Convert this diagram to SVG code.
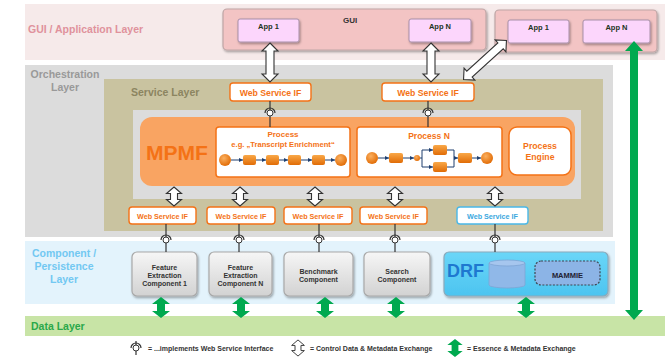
<svg xmlns="http://www.w3.org/2000/svg" width="669" height="358" viewBox="0 0 669 358">
<style>
text{font-family:"Liberation Sans",Arial,sans-serif;font-weight:bold}
.lay{font-size:10.5px}
.ws{fill:#fff;stroke:#f47216;stroke-width:1.4}
.wst{fill:#f47216;text-anchor:middle}
.app{fill:#fcd6fc;stroke:#a890a8;stroke-width:1}
.apt{font-size:7.5px;fill:#223322;text-anchor:middle}
.cmp{fill:url(#gc);stroke:#a8a8a8;stroke-width:1.2}
.cmt{font-size:7px;fill:#333;text-anchor:middle}
.pb{fill:#fff;stroke:#f47216;stroke-width:1.5}
.ot{fill:#f47216;text-anchor:middle}
.ha{fill:#fff;stroke:#333;stroke-width:1.1}
.ga{fill:#00a94f}
.ifl{stroke:#333;stroke-width:1.2;fill:none}
.ch{stroke:#1f3f6f;stroke-width:1;fill:none}
.lg{font-size:7px;fill:#333}
</style>
<defs>
<filter id="sh" x="-10%" y="-10%" width="130%" height="140%"><feDropShadow dx="1" dy="1.5" stdDeviation="1.2" flood-color="#000" flood-opacity="0.35"/></filter>
<linearGradient id="gc" x1="0" y1="0" x2="0" y2="1"><stop offset="0" stop-color="#f6f6f6"/><stop offset="1" stop-color="#d2d2d2"/></linearGradient>
<linearGradient id="gd" x1="0" y1="0" x2="0" y2="1"><stop offset="0" stop-color="#6ad6f8"/><stop offset="1" stop-color="#4cc4f0"/></linearGradient>
<radialGradient id="gb" cx="0.4" cy="0.35" r="0.7"><stop offset="0" stop-color="#fbb060"/><stop offset="1" stop-color="#e06800"/></radialGradient>
<linearGradient id="gs" x1="0" y1="0" x2="0" y2="1"><stop offset="0" stop-color="#f9a848"/><stop offset="1" stop-color="#e06c06"/></linearGradient>
<marker id="ma" viewBox="0 0 6 6" refX="6" refY="3" markerWidth="4" markerHeight="4" orient="auto"><path d="M0 0 L6 3 L0 6 Z" fill="#1f3f6f"/></marker>
<path id="hs" d="M0 -9.5 L7.5 -3 L3.5 -3 L3.5 3 L7.5 3 L0 9.5 L-7.5 3 L-3.5 3 L-3.5 -3 L-7.5 -3 Z"/>
<path id="gsm" d="M0 -10.5 L9 -3.5 L4 -3.5 L4 3.5 L9 3.5 L0 10.5 L-9 3.5 L-4 3.5 L-4 -3.5 L-9 -3.5 Z"/>
<g id="ifc"><circle cx="0" cy="0" r="3" fill="#fff" stroke="#333" stroke-width="1"/><path d="M-5 0 A5 5 0 0 1 5 0" fill="none" stroke="#333" stroke-width="1.2"/></g>
</defs>

<g id="layers">
<rect x="25" y="4" width="640" height="56" fill="#f6eaea"/>
<text class="lay" x="28" y="33" fill="#e0929c">GUI / Application Layer</text>
<rect x="25" y="65" width="588" height="172" fill="#dcdcdc"/>
<text class="lay" x="65" y="78" fill="#999" text-anchor="middle">Orchestration</text>
<text class="lay" x="65" y="91" fill="#999" text-anchor="middle">Layer</text>
<rect x="104" y="79" width="499" height="152" fill="#c9c3a0"/>
<text class="lay" x="131" y="96" fill="#8c8560">Service Layer</text>
<rect x="133" y="110" width="448" height="89" fill="#dcdcdc"/>
<rect x="25" y="241" width="590" height="63" fill="#e3f3fc"/>
<text class="lay" x="64" y="257" fill="#72c8f2" text-anchor="middle">Component /</text>
<text class="lay" x="64" y="270" fill="#72c8f2" text-anchor="middle">Persistence</text>
<text class="lay" x="64" y="283" fill="#72c8f2" text-anchor="middle">Layer</text>
<rect x="25" y="316" width="640" height="20" fill="#c8e4a6"/>
<text class="lay" x="31" y="330" fill="#2aa84a">Data Layer</text>
</g>

<g id="gui1">
<rect x="223" y="9" width="263" height="41" rx="4" fill="#f3c4c4" stroke="#bfa6a6" stroke-width="1.2" filter="url(#sh)"/>
<text x="343" y="23" font-size="8px" fill="#333">GUI</text>
<g id="gui1-app1"><rect class="app" x="238" y="19" width="61" height="23" rx="2" filter="url(#sh)"/><text class="apt" x="268.5" y="29">App 1</text></g>
<g id="gui1-appN"><rect class="app" x="409" y="19" width="62" height="23" rx="2" filter="url(#sh)"/><text class="apt" x="440" y="29">App N</text></g>
</g>
<g id="gui2">
<rect x="495" y="10" width="162" height="42" rx="4" fill="#f3c4c4" stroke="#bfa6a6" stroke-width="1.2" filter="url(#sh)"/>
<g id="gui2-app1"><rect class="app" x="508" y="20" width="61" height="23" rx="2" filter="url(#sh)"/><text class="apt" x="538.5" y="30">App 1</text></g>
<g id="gui2-appN"><rect class="app" x="583" y="20" width="67" height="23" rx="2" filter="url(#sh)"/><text class="apt" x="616.5" y="30">App N</text></g>
</g>

<g id="ws-top1"><rect class="ws" x="230" y="83" width="81" height="18" rx="3"/><text class="wst" x="270.5" y="95.5" font-size="8.7px">Web Service IF</text></g>
<g id="ws-top2"><rect class="ws" x="382" y="83" width="92" height="18" rx="3"/><text class="wst" x="428" y="95.5" font-size="8.7px">Web Service IF</text></g>

<g id="mpmf">
<rect x="140" y="117" width="435" height="69" rx="12" fill="#f9a462"/>
<text x="146" y="160" font-size="21px" fill="#f47216">MPMF</text>
</g>
<g id="process1">
<rect class="pb" x="216" y="127" width="134" height="50" rx="3"/>
<text class="ot" x="283" y="137" font-size="8px">Process</text>
<text class="ot" x="283" y="146.5" font-size="7.6px">e.g. „Transcript Enrichment“</text>
<g class="ch" marker-end="url(#ma)">
<line x1="231" y1="160" x2="243" y2="160"/><line x1="256" y1="160" x2="266" y2="160"/><line x1="279" y1="160" x2="288" y2="160"/><line x1="301" y1="160" x2="312" y2="160"/><line x1="325" y1="160" x2="335" y2="160"/>
</g>
<circle cx="225" cy="160" r="6" fill="url(#gb)"/>
<rect x="243" y="155" width="13" height="10" rx="2" fill="url(#gs)"/>
<rect x="266" y="155" width="13" height="10" rx="2" fill="url(#gs)"/>
<rect x="288" y="155" width="13" height="10" rx="2" fill="url(#gs)"/>
<rect x="312" y="155" width="13" height="10" rx="2" fill="url(#gs)"/>
<circle cx="341" cy="160" r="6" fill="url(#gb)"/>
</g>
<g id="processN">
<rect class="pb" x="357" y="127" width="145" height="50" rx="3"/>
<text class="ot" x="429" y="139" font-size="8.5px">Process N</text>
<g class="ch">
<line x1="378" y1="158" x2="389" y2="158" marker-end="url(#ma)"/>
<line x1="403" y1="158" x2="414" y2="158" marker-end="url(#ma)"/>
<polyline points="420,158 422,158 422,150 433,150" marker-end="url(#ma)"/>
<polyline points="422,158 422,167 433,167" marker-end="url(#ma)"/>
<polyline points="447,150 454,150 454,167 447,167"/>
<line x1="454" y1="158" x2="458" y2="158" marker-end="url(#ma)"/>
<line x1="472" y1="158" x2="481" y2="158" marker-end="url(#ma)"/>
</g>
<circle cx="372" cy="158" r="6" fill="url(#gb)"/>
<rect x="389" y="153" width="14" height="10" rx="2" fill="url(#gs)"/>
<circle cx="417" cy="158" r="3" fill="url(#gb)"/>
<rect x="433" y="145" width="14" height="10" rx="2" fill="url(#gs)"/>
<rect x="433" y="162" width="14" height="10" rx="2" fill="url(#gs)"/>
<rect x="458" y="153" width="14" height="10" rx="2" fill="url(#gs)"/>
<circle cx="487" cy="158" r="6" fill="url(#gb)"/>
</g>
<g id="engine">
<rect class="pb" x="509" y="127" width="62" height="48" rx="8"/>
<text class="ot" x="540" y="149" font-size="8.7px">Process</text>
<text class="ot" x="540" y="160" font-size="8.7px">Engine</text>
</g>

<g id="ws-b1"><rect class="ws" x="129" y="207" width="67" height="17" rx="3"/><text class="wst" x="162.5" y="218.5" font-size="7.2px">Web Service IF</text></g>
<g id="ws-b2"><rect class="ws" x="207" y="207" width="68" height="17" rx="3"/><text class="wst" x="241" y="218.5" font-size="7.2px">Web Service IF</text></g>
<g id="ws-b3"><rect class="ws" x="284" y="207" width="68" height="17" rx="3"/><text class="wst" x="318" y="218.5" font-size="7.2px">Web Service IF</text></g>
<g id="ws-b4"><rect class="ws" x="360" y="207" width="67" height="17" rx="3"/><text class="wst" x="393.5" y="218.5" font-size="7.2px">Web Service IF</text></g>
<g id="ws-b5"><rect x="457" y="207" width="71" height="17" rx="3" fill="#fff" stroke="#4ab8e8" stroke-width="1.4"/><text x="492.5" y="218.5" font-size="7.2px" fill="#3aa8e0" text-anchor="middle">Web Service IF</text></g>

<g id="comp1"><rect class="cmp" x="132" y="252" width="65" height="44" rx="5" filter="url(#sh)"/><text class="cmt" x="164.5" y="269.5">Feature</text><text class="cmt" x="164.5" y="277.5">Extraction</text><text class="cmt" x="164.5" y="286">Component 1</text></g>
<g id="comp2"><rect class="cmp" x="209" y="252" width="63" height="44" rx="5" filter="url(#sh)"/><text class="cmt" x="240.5" y="269.5">Feature</text><text class="cmt" x="240.5" y="277.5">Extraction</text><text class="cmt" x="240.5" y="286">Component N</text></g>
<g id="comp3"><rect class="cmp" x="284" y="252" width="69" height="44" rx="5" filter="url(#sh)"/><text class="cmt" x="318.5" y="273.5">Benchmark</text><text class="cmt" x="318.5" y="281.5">Component</text></g>
<g id="comp4"><rect class="cmp" x="364" y="252" width="66" height="44" rx="5" filter="url(#sh)"/><text class="cmt" x="397" y="273.5">Search</text><text class="cmt" x="397" y="281.5">Component</text></g>
<g id="drf">
<rect x="444" y="252" width="164" height="44" rx="5" fill="url(#gd)" stroke="#8aaabb" stroke-width="1.2" filter="url(#sh)"/>
<text x="447" y="277" font-size="18px" fill="#1e78d0">DRF</text>
<path d="M489 263 L489 285 A18 3 0 0 0 525 285 L525 263 Z" fill="#90b8e8" stroke="#7fa4d4" stroke-width="0.8"/>
<ellipse cx="507" cy="263" rx="18" ry="3" fill="#a6c6ee" stroke="#7fa4d4" stroke-width="0.8"/>
<g id="mammie"><rect x="535" y="261" width="65" height="24" rx="6" fill="#8cb4e6" stroke="#3d4450" stroke-width="1.2" stroke-dasharray="2 1.5"/><text x="567.5" y="278" font-size="7.5px" fill="#223" text-anchor="middle">MAMMIE</text></g>
</g>

<g id="connectors">
<path class="ha" d="M270 43 L278 51 L274 51 L274 74 L278 74 L270 82 L262 74 L266 74 L266 51 L262 51 Z"/>
<path class="ha" d="M431 43 L439 51 L435 51 L435 74 L439 74 L431 82 L423 74 L427 74 L427 51 L423 51 Z"/>
<path class="ha" transform="translate(485,60) rotate(47.7)" d="M0 -29 L8 -21 L4 -21 L4 21 L8 21 L0 29 L-8 21 L-4 21 L-4 -21 L-8 -21 Z"/>
<line class="ifl" x1="270" y1="101" x2="270" y2="127"/><use href="#ifc" x="270" y="113"/>
<line class="ifl" x1="428" y1="101" x2="428" y2="127"/><use href="#ifc" x="428" y="113"/>
<use class="ha" href="#hs" x="174" y="196.5"/>
<use class="ha" href="#hs" x="240" y="196.5"/>
<use class="ha" href="#hs" x="315" y="196.5"/>
<use class="ha" href="#hs" x="395" y="196.5"/>
<use class="ha" href="#hs" x="495" y="196.5"/>
<line class="ifl" x1="166" y1="224" x2="166" y2="252"/><use href="#ifc" x="166" y="240"/>
<line class="ifl" x1="239" y1="224" x2="239" y2="252"/><use href="#ifc" x="239" y="240"/>
<line class="ifl" x1="319" y1="224" x2="319" y2="252"/><use href="#ifc" x="319" y="240"/>
<line class="ifl" x1="395" y1="224" x2="395" y2="252"/><use href="#ifc" x="395" y="240"/>
<line class="ifl" x1="495" y1="224" x2="495" y2="252"/><use href="#ifc" x="495" y="240"/>
<use class="ga" href="#gsm" x="161" y="307.5"/>
<use class="ga" href="#gsm" x="241" y="307.5"/>
<use class="ga" href="#gsm" x="325" y="307.5"/>
<use class="ga" href="#gsm" x="396" y="307.5"/>
<use class="ga" href="#gsm" x="526" y="307.5"/>
<path class="ga" d="M634 41 L643 51 L638 51 L638 310 L643 310 L634 320 L625 310 L630 310 L630 51 L625 51 Z"/>
</g>

<g id="legend">
<line class="ifl" x1="136" y1="341" x2="136" y2="355"/><use href="#ifc" x="136" y="348"/>
<text class="lg" x="148" y="351">= ...implements Web Service Interface</text>
<use class="ha" href="#hs" transform="translate(298,348) scale(0.85)"/>
<text class="lg" x="310" y="351">= Control Data &amp; Metadata Exchange</text>
<use class="ga" href="#gsm" transform="translate(455,348) scale(0.85)"/>
<text class="lg" x="467" y="351">= Essence &amp; Metadata Exchange</text>
</g>
</svg>
